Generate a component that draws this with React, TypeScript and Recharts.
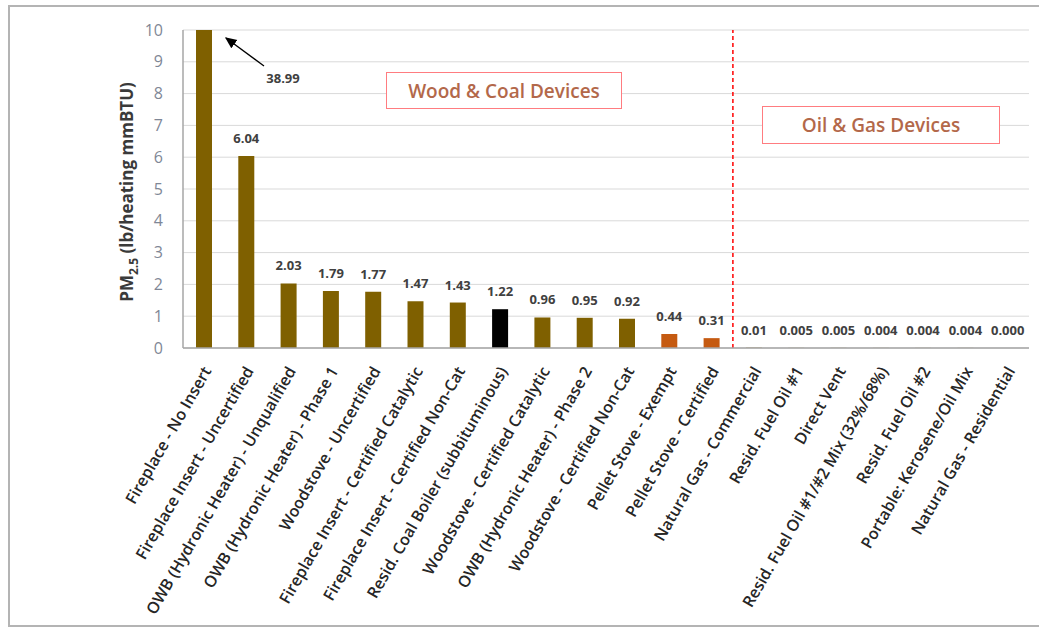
import React from 'react';
import {
  BarChart,
  Bar,
  XAxis,
  YAxis,
  CartesianGrid,
  Cell,
  LabelList,
  ReferenceLine,
} from 'recharts';

const categories = [
  'Fireplace - No Insert',
  'Fireplace Insert - Uncertified',
  'OWB (Hydronic Heater) - Unqualified',
  'OWB (Hydronic Heater) - Phase 1',
  'Woodstove - Uncertified',
  'Fireplace Insert - Certified Catalytic',
  'Fireplace Insert - Certified Non-Cat',
  'Resid. Coal Boiler (subbituminous)',
  'Woodstove - Certified Catalytic',
  'OWB (Hydronic Heater) - Phase 2',
  'Woodstove - Certified Non-Cat',
  'Pellet Stove - Exempt',
  'Pellet Stove - Certified',
  'Natural Gas - Commercial',
  'Resid. Fuel Oil #1',
  'Direct Vent',
  'Resid. Fuel Oil #1/#2 Mix (32%/68%)',
  'Resid. Fuel Oil #2',
  'Portable: Kerosene/Oil Mix',
  'Natural Gas - Residential',
];

const pm25 = [
  38.99, 6.04, 2.03, 1.79, 1.77, 1.47, 1.43, 1.22, 0.96, 0.95, 0.92, 0.44, 0.31,
  0.01, 0.005, 0.005, 0.004, 0.004, 0.004, 0.0003,
];

const barColors = [
  '#7f6000', '#7f6000', '#7f6000', '#7f6000', '#7f6000', '#7f6000', '#7f6000',
  '#000000', '#7f6000', '#7f6000', '#7f6000', '#c55a11', '#c55a11',
  '#7f6000', '#7f6000', '#7f6000', '#7f6000', '#7f6000', '#7f6000', '#7f6000',
];

const yTicks = [0, 1, 2, 3, 4, 5, 6, 7, 8, 9, 10];
const yMax = 10;

const data = categories.map((name, i) => ({ name, value: pm25[i] }));

const FONT = '"Open Sans", sans-serif';

const fmt = (v: number) => (v < 0.01 ? v.toFixed(3) : v.toFixed(2));

const XTick = (props: any) => {
  const { x, y, payload } = props;
  const ax = x + 3;
  const ay = y + 12;
  return (
    <text
      x={ax}
      y={ay}
      transform={`rotate(-60, ${ax}, ${ay})`}
      textAnchor="end"
      dy="0.35em"
      fontSize={16}
      fontWeight={600}
      fontFamily={FONT}
      fill="#262626"
    >
      {payload.value}
    </text>
  );
};

const ValueLabel = (props: any) => {
  const { x, y, width, height, index, value } = props;
  if (index === 0) {
    // bar is clipped at the top of the axis; find where the axis max sits
    const top = y + height - (height * yMax) / value;
    const bx = x + width;
    return (
      <g>
        <defs>
          <marker id="arrowHead" markerWidth="10" markerHeight="10" refX="8" refY="5" orient="auto">
            <path d="M0,1 L9,5 L0,9 z" fill="#000" />
          </marker>
        </defs>
        <line
          x1={bx + 52}
          y1={top + 36}
          x2={bx + 14}
          y2={top + 8}
          stroke="#000"
          strokeWidth={1.3}
          markerEnd="url(#arrowHead)"
        />
        <text
          x={bx + 71}
          y={top + 53}
          textAnchor="middle"
          fontSize={13}
          fontWeight={700}
          fontFamily={FONT}
          fill="#404040"
        >
          {fmt(value)}
        </text>
      </g>
    );
  }
  return (
    <text
      x={x + width / 2}
      y={y - 13}
      textAnchor="middle"
      fontSize={13}
      fontWeight={700}
      fontFamily={FONT}
      fill="#404040"
    >
      {fmt(value)}
    </text>
  );
};

const YLabel = () => (
  <text
    x={117}
    y={185}
    transform="rotate(-90, 117, 185)"
    textAnchor="middle"
    dy="0.35em"
    fontSize={17}
    fontWeight={700}
    fontFamily={FONT}
    fill="#3a3a3a"
  >
    PM
    <tspan fontSize={12} dy={5}>2.5</tspan>
    <tspan dy={-5}> (lb/heating mmBTU)</tspan>
  </text>
);

const boxStyle: React.CSSProperties = {
  position: 'absolute',
  border: '1.5px solid #ff7c80',
  background: '#fff',
  color: '#b3684a',
  fontFamily: FONT,
  fontSize: 19,
  fontWeight: 600,
  display: 'flex',
  alignItems: 'center',
  justifyContent: 'center',
  boxSizing: 'border-box',
};

export default function App() {
  return (
    <div
      style={{
        position: 'absolute',
        left: 8,
        top: 5,
        width: 1040,
        height: 622,
        border: '2px solid #b4b4b4',
        boxSizing: 'border-box',
        background: '#fff',
      }}
    >
      <BarChart
        width={1036}
        height={618}
        data={data}
        margin={{ top: 23, right: 17, left: 143, bottom: 7 }}
        barSize={16}
      >
        <CartesianGrid horizontal vertical={false} stroke="#d9d9d9" />
        <XAxis
          dataKey="name"
          interval={0}
          tick={<XTick />}
          tickLine={false}
          axisLine={{ stroke: '#a6a6a6', strokeWidth: 1.5 }}
          height={270}
        />
        <XAxis
          xAxisId="top"
          orientation="top"
          dataKey="name"
          tick={false}
          tickLine={false}
          axisLine={{ stroke: '#8c8c8c', strokeWidth: 1.5 }}
          height={0}
        />
        <YAxis
          domain={[0, yMax]}
          ticks={yTicks}
          allowDataOverflow
          interval={0}
          tickLine={false}
          axisLine={{ stroke: '#a6a6a6', strokeWidth: 1.5 }}
          tick={{ fill: '#7f8796', fontSize: 16, fontFamily: FONT }}
          tickMargin={14}
          width={30}
          label={<YLabel />}
        />
        <YAxis
          yAxisId="right"
          orientation="right"
          domain={[0, yMax]}
          tick={false}
          tickLine={false}
          axisLine={{ stroke: '#8c8c8c', strokeWidth: 2 }}
          width={0}
        />
        <ReferenceLine
          x="Natural Gas - Commercial"
          position="start"
          stroke="#ff0000"
          strokeDasharray="4 3"
          strokeWidth={1.5}
        />
        <Bar dataKey="value" isAnimationActive={false}>
          {data.map((d, i) => (
            <Cell key={d.name} fill={barColors[i]} />
          ))}
          <LabelList dataKey="value" content={<ValueLabel />} />
        </Bar>
      </BarChart>
      <div style={{ ...boxStyle, left: 376, top: 65, width: 236, height: 37 }}>
        Wood &amp; Coal Devices
      </div>
      <div style={{ ...boxStyle, left: 752, top: 99, width: 238, height: 38 }}>
        Oil &amp; Gas Devices
      </div>
    </div>
  );
}
